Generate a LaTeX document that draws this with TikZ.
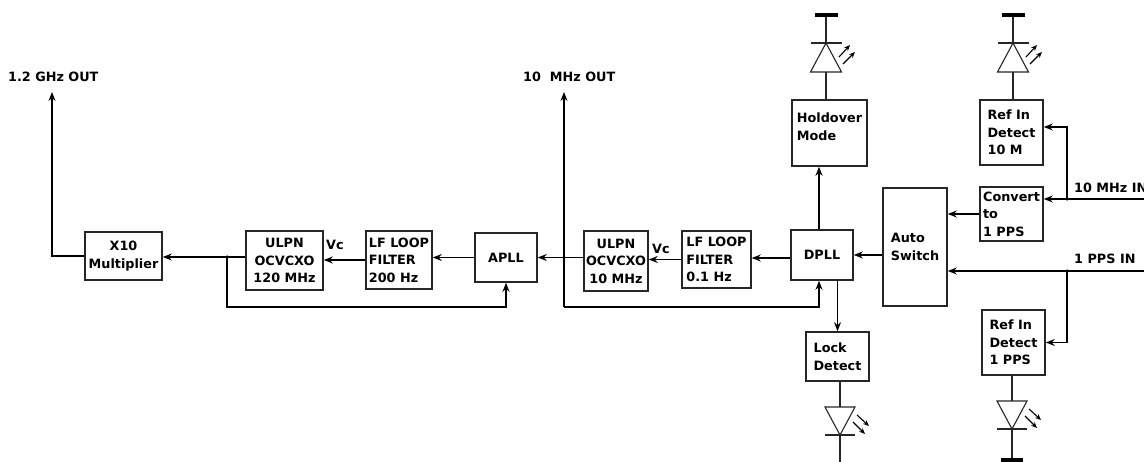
\documentclass[tikz,border=0pt]{standalone}
\usepackage{fontspec}
\setmainfont{DejaVu Sans}
\usetikzlibrary{arrows.meta}
\begin{document}
\begin{tikzpicture}[x=1pt,y=-1pt,
  txt/.style={font=\fontsize{12.8}{17.5}\selectfont\bfseries, inner sep=0pt},
  box/.style={draw=black!85, line width=1.6pt, txt, align=center},
  boxl/.style={box, align=left},
  wire/.style={line width=1.4pt},
  arr/.style={wire, -{Stealth[length=9pt,width=7pt,inset=3pt]}},
  thinw/.style={line width=1.1pt, draw=black!85},
  ray/.style={line width=1.1pt, -{Stealth[length=6pt,width=5pt,inset=2pt]}},
  gndbar/.style={line width=4pt},
  dot/.style={fill, circle, inner sep=0pt, minimum size=3.5pt},
  ledup/.pic={
    \draw[thinw] (-15.5,29) -- (15.5,29) -- (0,0) -- cycle;
    \draw[thinw] (-15.5,0) -- (15.5,0);
    \draw[ray] (13,14) -- (24,2);
    \draw[ray] (17,21) -- (29,9);
  },
  leddown/.pic={
    \draw[thinw] (-15,-28) -- (15,-28) -- (0,0) -- cycle;
    \draw[thinw] (-15,0) -- (15,0);
    \draw[ray] (17,-20) -- (29,-9);
    \draw[ray] (13,-13) -- (25,-1);
  }
]
\useasboundingbox (0,0) rectangle (1144,462);

% boxes
\node[box, minimum width=77pt, minimum height=48pt] (x10) at (123.5,256) {X10\\Multiplier};
\node[box, minimum width=77pt, minimum height=59pt] (ulpn120) at (284.5,260.5) {ULPN\\OCVCXO\\120 MHz};
\node[boxl, minimum width=66pt, minimum height=58pt] (lf200) at (399,260) {LF LOOP\\FILTER\\200 Hz};
\node[box, minimum width=62pt, minimum height=49pt] (apll) at (506,257.5) {APLL};
\node[box, minimum width=64pt, minimum height=60pt] (ulpn10) at (616,261) {ULPN\\OCVCXO\\10 MHz};
\node[boxl, minimum width=69pt, minimum height=57pt] (lf01) at (716.5,259.5) {LF LOOP\\FILTER\\0.1 Hz};
\node[box, minimum width=62pt, minimum height=50pt] (dpll) at (822,255) {DPLL};
\node[box, minimum width=75pt, minimum height=66pt] (hold) at (829.5,133) {};
\node[txt, align=left] (holdtxt) at (829.5,126.5) {Holdover\\Mode};
\node[boxl, minimum width=64pt, minimum height=118pt] (auto) at (915,247) {Auto\\Switch};
\node[boxl, minimum width=63pt, minimum height=65pt] (ref10) at (1011.5,132.5) {Ref In\\Detect\\10 M};
\node[boxl, minimum width=63pt, minimum height=54pt] (conv) at (1011.5,214) {Convert\\to\\1 PPS};
\node[boxl, minimum width=63pt, minimum height=65pt] (ref1) at (1013.5,342.5) {Ref In\\Detect\\1 PPS};
\node[boxl, minimum width=63pt, minimum height=49pt] (lock) at (837.5,356.5) {Lock\\Detect};

% labels
\node[txt, anchor=west] (l12) at (8,77) {1.2 GHz OUT};
\node[txt, anchor=west] (l10) at (523,77) {10\ \ MHz OUT};
\node[txt, anchor=west] (lin10) at (1074,188) {10 MHz IN};
\node[txt, anchor=west] (lin1) at (1074,259) {1 PPS IN};
\node[txt, anchor=west] (vc1) at (326,245) {Vc};
\node[txt, anchor=west] (vc2) at (652,249) {Vc};

% coordinates
\coordinate (out12) at (52,92);
\coordinate (j1) at (227,257);
\coordinate (fb1) at (227,307);
\coordinate (j2) at (564,257.5);
\coordinate (fb2) at (564,307);
\coordinate (out10) at (564,92);
\coordinate (in10) at (1144,199);
\coordinate (j3) at (1067,199);
\coordinate (in1) at (1144,271);
\coordinate (j4) at (1067,271);

% connectors
\draw[arr] (x10.west) -| (out12);
\draw[wire] (ulpn120.west |- j1) -- (j1);
\draw[arr] (j1) -- (j1 -| x10.east);
\draw[arr] (j1) -- (fb1) -| (apll.south);
\draw[arr] (lf200.west) -- (lf200.west -| ulpn120.east);
\draw[arr] (apll.west) -- (apll.west -| lf200.east);
\draw[arr] (ulpn10.west |- apll.east) -- (apll.east);
\draw[arr] (fb2) -- (out10);
\draw[arr] (fb2) -| ([xshift=-3pt]dpll.south);
\draw[arr] (lf01.west) -- (lf01.west -| ulpn10.east);
\draw[arr] ([yshift=-3pt]dpll.west) -- ([yshift=-3pt]dpll.west -| lf01.east);
\draw[arr] (auto.west |- dpll.east) -- (dpll.east);
\draw[arr] ([xshift=-3pt]dpll.north) -- ([xshift=-3pt]dpll.north |- hold.south);
\draw[arr] (lock.north |- dpll.south) -- (lock.north);
\draw[arr] (conv.west) -- (conv.west -| auto.east);
\draw[arr] (in10) -- (in10 -| conv.east);
\draw[arr] (j3) |- ([yshift=5.5pt]ref10.east);
\draw[arr] (in1) -- (in1 -| auto.east);
\draw[arr] (j4) |- (ref1.east);

\node[dot] (d1) at (j1) {};
\node[dot] (d2) at (j2) {};
\node[dot] (d3) at (j3) {};
\node[dot] (d4) at (j4) {};

% LEDs
\coordinate (led1) at (826,43);
\coordinate (g1) at (826,15);
\pic at (led1) {ledup};
\draw[thinw] (led1 |- hold.north) -- ([yshift=-29pt]led1);
\draw[thinw] (led1) -- (g1);
\draw[gndbar] ([xshift=-11.5pt]g1) -- ([xshift=11.5pt]g1);

\coordinate (led2) at (1013,43);
\coordinate (g2) at (1013,15);
\pic at (led2) {ledup};
\draw[thinw] (led2 |- ref10.north) -- ([yshift=-29pt]led2);
\draw[thinw] (led2) -- (g2);
\draw[gndbar] ([xshift=-11.5pt]g2) -- ([xshift=11.5pt]g2);

\coordinate (led3) at (840,435);
\coordinate (g3) at (840,462);
\pic at (led3) {leddown};
\draw[thinw] (led3 |- lock.south) -- ([yshift=28pt]led3);
\draw[thinw] (led3) -- (g3);

\coordinate (led4) at (1012,429);
\coordinate (g4) at (1012,460);
\pic at (led4) {leddown};
\draw[thinw] (led4 |- ref1.south) -- ([yshift=28pt]led4);
\draw[thinw] (led4) -- (g4);
\draw[gndbar] ([xshift=-11pt]g4) -- ([xshift=11pt]g4);
\end{tikzpicture}
\end{document}
